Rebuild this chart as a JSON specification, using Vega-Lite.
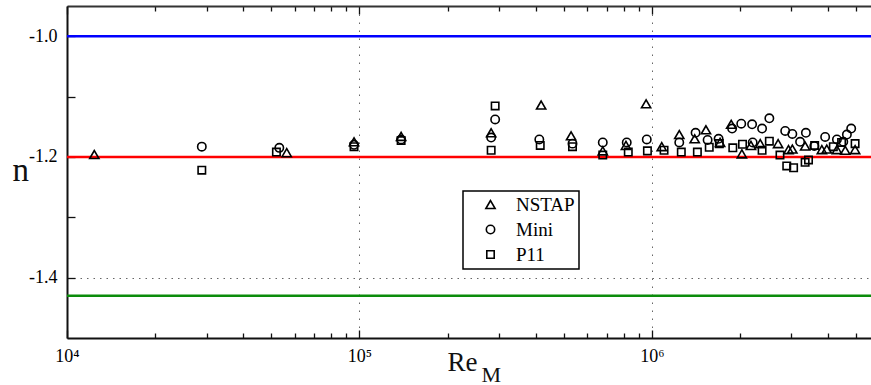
{
  "$schema": "https://vega.github.io/schema/vega-lite/v6.json",
  "width": 804,
  "height": 332,
  "autosize": "none",
  "padding": {"left": 67, "top": 6, "right": 0, "bottom": 47},
  "background": "white",
  "config": {
    "view": {"stroke": null},
    "font": "Liberation Serif",
    "axis": {"labelFont": "Liberation Serif", "titleFont": "Liberation Serif"},
    "legend": {"strokeWidth": 1.5, "labelFont": "Liberation Serif"}
  },
  "datasets": {
    "probes": [
      {"Re": 12400, "n": -1.196, "probe": "NSTAP"},
      {"Re": 56400, "n": -1.193, "probe": "NSTAP"},
      {"Re": 95800, "n": -1.175, "probe": "NSTAP"},
      {"Re": 138800, "n": -1.166, "probe": "NSTAP"},
      {"Re": 282000, "n": -1.160, "probe": "NSTAP"},
      {"Re": 418000, "n": -1.114, "probe": "NSTAP"},
      {"Re": 529000, "n": -1.165, "probe": "NSTAP"},
      {"Re": 679000, "n": -1.190, "probe": "NSTAP"},
      {"Re": 815000, "n": -1.181, "probe": "NSTAP"},
      {"Re": 955000, "n": -1.112, "probe": "NSTAP"},
      {"Re": 1080000, "n": -1.183, "probe": "NSTAP"},
      {"Re": 1240000, "n": -1.163, "probe": "NSTAP"},
      {"Re": 1400000, "n": -1.170, "probe": "NSTAP"},
      {"Re": 1530000, "n": -1.155, "probe": "NSTAP"},
      {"Re": 1710000, "n": -1.176, "probe": "NSTAP"},
      {"Re": 1866000, "n": -1.146, "probe": "NSTAP"},
      {"Re": 2030000, "n": -1.195, "probe": "NSTAP"},
      {"Re": 2180000, "n": -1.181, "probe": "NSTAP"},
      {"Re": 2345000, "n": -1.178, "probe": "NSTAP"},
      {"Re": 2700000, "n": -1.178, "probe": "NSTAP"},
      {"Re": 2930000, "n": -1.188, "probe": "NSTAP"},
      {"Re": 3020000, "n": -1.187, "probe": "NSTAP"},
      {"Re": 3340000, "n": -1.182, "probe": "NSTAP"},
      {"Re": 3810000, "n": -1.188, "probe": "NSTAP"},
      {"Re": 3960000, "n": -1.187, "probe": "NSTAP"},
      {"Re": 4290000, "n": -1.188, "probe": "NSTAP"},
      {"Re": 4580000, "n": -1.189, "probe": "NSTAP"},
      {"Re": 4950000, "n": -1.188, "probe": "NSTAP"},
      {"Re": 28900, "n": -1.183, "probe": "Mini"},
      {"Re": 53200, "n": -1.185, "probe": "Mini"},
      {"Re": 95800, "n": -1.180, "probe": "Mini"},
      {"Re": 138800, "n": -1.171, "probe": "Mini"},
      {"Re": 291000, "n": -1.138, "probe": "Mini"},
      {"Re": 282000, "n": -1.168, "probe": "Mini"},
      {"Re": 412000, "n": -1.171, "probe": "Mini"},
      {"Re": 535000, "n": -1.178, "probe": "Mini"},
      {"Re": 679000, "n": -1.176, "probe": "Mini"},
      {"Re": 820000, "n": -1.176, "probe": "Mini"},
      {"Re": 960000, "n": -1.171, "probe": "Mini"},
      {"Re": 1240000, "n": -1.176, "probe": "Mini"},
      {"Re": 1410000, "n": -1.160, "probe": "Mini"},
      {"Re": 1550000, "n": -1.172, "probe": "Mini"},
      {"Re": 1690000, "n": -1.170, "probe": "Mini"},
      {"Re": 1880000, "n": -1.153, "probe": "Mini"},
      {"Re": 2020000, "n": -1.145, "probe": "Mini"},
      {"Re": 2200000, "n": -1.146, "probe": "Mini"},
      {"Re": 2380000, "n": -1.153, "probe": "Mini"},
      {"Re": 2520000, "n": -1.136, "probe": "Mini"},
      {"Re": 2210000, "n": -1.176, "probe": "Mini"},
      {"Re": 2855000, "n": -1.157, "probe": "Mini"},
      {"Re": 3020000, "n": -1.162, "probe": "Mini"},
      {"Re": 3360000, "n": -1.160, "probe": "Mini"},
      {"Re": 3210000, "n": -1.175, "probe": "Mini"},
      {"Re": 3590000, "n": -1.182, "probe": "Mini"},
      {"Re": 3910000, "n": -1.167, "probe": "Mini"},
      {"Re": 4290000, "n": -1.171, "probe": "Mini"},
      {"Re": 4640000, "n": -1.163, "probe": "Mini"},
      {"Re": 4800000, "n": -1.153, "probe": "Mini"},
      {"Re": 4510000, "n": -1.175, "probe": "Mini"},
      {"Re": 28900, "n": -1.222, "probe": "P11"},
      {"Re": 52000, "n": -1.192, "probe": "P11"},
      {"Re": 95800, "n": -1.183, "probe": "P11"},
      {"Re": 138800, "n": -1.173, "probe": "P11"},
      {"Re": 291000, "n": -1.1155, "probe": "P11"},
      {"Re": 282000, "n": -1.189, "probe": "P11"},
      {"Re": 415000, "n": -1.181, "probe": "P11"},
      {"Re": 535000, "n": -1.183, "probe": "P11"},
      {"Re": 679000, "n": -1.197, "probe": "P11"},
      {"Re": 830000, "n": -1.192, "probe": "P11"},
      {"Re": 965000, "n": -1.190, "probe": "P11"},
      {"Re": 1100000, "n": -1.189, "probe": "P11"},
      {"Re": 1260000, "n": -1.192, "probe": "P11"},
      {"Re": 1430000, "n": -1.192, "probe": "P11"},
      {"Re": 1570000, "n": -1.184, "probe": "P11"},
      {"Re": 1700000, "n": -1.178, "probe": "P11"},
      {"Re": 1890000, "n": -1.185, "probe": "P11"},
      {"Re": 2040000, "n": -1.179, "probe": "P11"},
      {"Re": 2380000, "n": -1.189, "probe": "P11"},
      {"Re": 2520000, "n": -1.174, "probe": "P11"},
      {"Re": 2740000, "n": -1.197, "probe": "P11"},
      {"Re": 2890000, "n": -1.215, "probe": "P11"},
      {"Re": 3050000, "n": -1.218, "probe": "P11"},
      {"Re": 3340000, "n": -1.209, "probe": "P11"},
      {"Re": 3430000, "n": -1.205, "probe": "P11"},
      {"Re": 3600000, "n": -1.181, "probe": "P11"},
      {"Re": 4170000, "n": -1.183, "probe": "P11"},
      {"Re": 4450000, "n": -1.176, "probe": "P11"},
      {"Re": 4950000, "n": -1.178, "probe": "P11"}
    ]
  },
  "layer": [
    {
      "data": {"values": [{}]},
      "mark": {"type": "rule", "color": "#0000ff", "strokeWidth": 2.5},
      "encoding": {
        "y": {"datum": -1.0, "type": "quantitative", "scale": {"domain": [-1.5, -0.95], "zero": false, "nice": false}, "axis": null}
      }
    },
    {
      "data": {"values": [{}]},
      "mark": {"type": "rule", "color": "#ff0000", "strokeWidth": 2.5},
      "encoding": {
        "y": {"datum": -1.2, "type": "quantitative", "scale": {"domain": [-1.5, -0.95], "zero": false, "nice": false}, "axis": null}
      }
    },
    {
      "data": {"values": [{}]},
      "mark": {"type": "rule", "color": "#0b8c0b", "strokeWidth": 2.5},
      "encoding": {
        "y": {"datum": -1.43, "type": "quantitative", "scale": {"domain": [-1.5, -0.95], "zero": false, "nice": false}, "axis": null}
      }
    },
    {
      "data": {"name": "probes"},
      "mark": {"type": "point", "filled": false, "color": "black", "strokeWidth": 1.6, "opacity": 1},
      "encoding": {
        "x": {
          "field": "Re", "type": "quantitative",
          "scale": {"type": "log", "domain": [10000, 5610000], "nice": false},
          "axis": {
            "orient": "bottom",
            "values": [10000, 20000, 30000, 40000, 50000, 60000, 70000, 80000, 90000, 100000, 200000, 300000, 400000, 500000, 600000, 700000, 800000, 900000, 1000000, 2000000, 3000000, 4000000, 5000000],
            "labelExpr": "datum.value == 10000 ? '10⁴' : datum.value == 100000 ? '10⁵' : datum.value == 1000000 ? '10⁶' : ''",
            "labelFlush": false,
            "labelOverlap": false,
            "labelFontSize": 18,
            "labelColor": "black",
            "labelPadding": {"condition": {"test": "datum.value == 10000 || datum.value == 100000 || datum.value == 1000000", "value": 17}, "value": 14},
            "tickSize": {"condition": {"test": "datum.value == 10000 || datum.value == 100000 || datum.value == 1000000", "value": -8}, "value": -5},
            "tickColor": "#111",
            "tickWidth": 1.3,
            "domainColor": "#111",
            "domainWidth": 2,
            "grid": true,
            "gridColor": "#666",
            "gridDash": [1.5, 6.5],
            "gridWidth": 1,
            "gridOpacity": {"condition": {"test": "datum.value == 100000 || datum.value == 1000000", "value": 1}, "value": 0},
            "title": "Re",
            "titleFontSize": 27,
            "titleFontWeight": "normal",
            "titleColor": "#111",
            "titleAlign": "left",
            "titleBaseline": "alphabetic",
            "titleX": 380,
            "titleY": 32
          }
        },
        "y": {
          "field": "n", "type": "quantitative",
          "scale": {"domain": [-1.5, -0.95], "zero": false, "nice": false},
          "axis": {
            "orient": "left",
            "values": [-1.4, -1.3, -1.2, -1.1, -1.0],
            "labelExpr": "datum.value == -1 ? '-1.0' : datum.value == -1.2 ? '-1.2' : datum.value == -1.4 ? '-1.4' : ''",
            "labelFontSize": 18,
            "labelColor": "black",
            "labelPadding": 18,
            "tickSize": -8,
            "tickColor": "#111",
            "tickWidth": 1.3,
            "domainColor": "#111",
            "domainWidth": 2,
            "grid": true,
            "gridColor": "#666",
            "gridDash": [1.5, 5],
            "gridWidth": 1,
            "gridOpacity": {"condition": {"test": "datum.value == -1.4 || datum.value == -1.2 || datum.value == -1", "value": 1}, "value": 0},
            "title": "n",
            "titleAngle": 0,
            "titleFontSize": 33,
            "titleFontWeight": "normal",
            "titleColor": "#111",
            "titleAlign": "left",
            "titleBaseline": "alphabetic",
            "titleX": -55,
            "titleY": 174
          }
        },
        "shape": {
          "field": "probe", "type": "nominal",
          "scale": {"domain": ["NSTAP", "Mini", "P11"], "range": ["triangle-up", "circle", "square"]},
          "legend": {
            "title": null,
            "orient": "none",
            "legendX": 396,
            "legendY": 185,
            "padding": 4,
            "strokeColor": "black",
            "fillColor": "white",
            "labelFontSize": 19,
            "labelColor": "black",
            "symbolStrokeWidth": 1.6,
            "symbolStrokeColor": "black",
            "symbolOffset": 14,
            "labelOffset": 16,
            "rowPadding": 5
          }
        },
        "size": {
          "field": "probe", "type": "nominal",
          "scale": {"domain": ["NSTAP", "Mini", "P11"], "range": [85, 55, 50]},
          "legend": {
            "title": null,
            "orient": "none",
            "legendX": 396,
            "legendY": 185,
            "padding": 4,
            "strokeColor": "black",
            "fillColor": "white",
            "labelFontSize": 19,
            "labelColor": "black",
            "symbolStrokeWidth": 1.6,
            "symbolStrokeColor": "black",
            "symbolOffset": 14,
            "labelOffset": 16,
            "rowPadding": 5
          }
        }
      }
    },
    {
      "data": {"name": "probes"},
      "mark": {"type": "point", "opacity": 0},
      "encoding": {
        "x": {
          "field": "Re", "type": "quantitative",
          "scale": {"type": "log", "domain": [10000, 5610000], "nice": false},
          "axis": {
            "orient": "top",
            "values": [10000, 20000, 30000, 40000, 50000, 60000, 70000, 80000, 90000, 100000, 200000, 300000, 400000, 500000, 600000, 700000, 800000, 900000, 1000000, 2000000, 3000000, 4000000, 5000000],
            "labels": false,
            "grid": false,
            "tickSize": {"condition": {"test": "datum.value == 10000 || datum.value == 100000 || datum.value == 1000000", "value": -8}, "value": -5},
            "tickColor": "#111",
            "tickWidth": 1.3,
            "domainColor": "#333",
            "domainWidth": 2,
            "title": "M",
            "titleFontSize": 22,
            "titleFontWeight": "normal",
            "titleColor": "#111",
            "titleAlign": "left",
            "titleBaseline": "alphabetic",
            "titleX": 414,
            "titleY": 375
          }
        },
        "y": {"field": "n", "type": "quantitative", "scale": {"domain": [-1.5, -0.95], "zero": false, "nice": false}, "axis": null}
      }
    }
  ],
  "resolve": {"axis": {"x": "independent", "y": "independent"}}
}
